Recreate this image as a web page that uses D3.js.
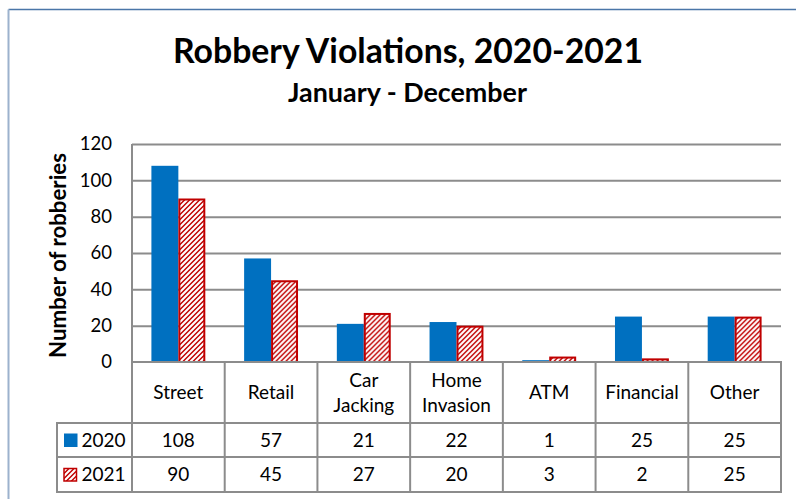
<!DOCTYPE html>
<html>
<head>
<meta charset="utf-8">
<script src="https://cdn.jsdelivr.net/npm/d3@7"></script>
<style>
  html, body { margin: 0; padding: 0; background: #fff; }
  svg { display: block; }
  text { font-family: Lato, "Noto Sans", sans-serif; fill: #000; }
</style>
</head>
<body>
<svg id="chart" width="796" height="499"></svg>
<script>
// Robbery counts by type, January - December
const categories = ["Street", "Retail", "Car Jacking", "Home Invasion", "ATM", "Financial", "Other"];
const categoryLines = [["Street"], ["Retail"], ["Car", "Jacking"], ["Home", "Invasion"], ["ATM"], ["Financial"], ["Other"]];
const seriesNames = ["2020", "2021"];
const values2020 = [108, 57, 21, 22, 1, 25, 25];
const values2021 = [90, 45, 27, 20, 3, 2, 25];
const yTicks = [0, 20, 40, 60, 80, 100, 120];

const seriesValues = { "2020": values2020, "2021": values2021 };

const svg = d3.select("#chart");
const W = 796, H = 499;

const plot = { left: 132, right: 781, top: 144, bottom: 362 };
const table = { left: 57, headerBottom: 423, row1Bottom: 457, row2Bottom: 492 };
const gridColor = "#8c8c8c";
const blue = "#0070c0";
const red = "#c00000";

svg.append("rect").attr("width", W).attr("height", H).attr("fill", "#fff");

// Striped fill for the 2021 series
const defs = svg.append("defs");
const T = 5;
const pat = defs.append("pattern")
  .attr("id", "stripes")
  .attr("patternUnits", "userSpaceOnUse")
  .attr("width", T).attr("height", T);
pat.append("rect").attr("width", T).attr("height", T).attr("fill", red);
pat.append("path")
  .attr("d", `M-1,${T + 1} L${T + 1},-1 M-${T},${T} L${T},-${T} M0,${2 * T} L${2 * T},0`)
  .attr("stroke", "#fff").attr("stroke-width", 2.1);

// Outer frame
svg.append("line").attr("x1", 8.5).attr("x2", W + 2).attr("y1", 9.5).attr("y2", 9.5)
  .attr("stroke", "#4a76a8").attr("stroke-width", 1.5);
svg.append("line").attr("x1", 8.5).attr("x2", 8.5).attr("y1", 9.5).attr("y2", H + 2)
  .attr("stroke", "#9cb2cd").attr("stroke-width", 2);

// Fit a text element to a target width by scaling its font size
function fitWidth(sel, target) {
  const node = sel.node();
  const size = parseFloat(sel.attr("font-size"));
  const w = node.getComputedTextLength();
  sel.attr("font-size", (size * target / w).toFixed(2));
  return sel;
}

// Titles
fitWidth(svg.append("text")
  .attr("x", 408).attr("y", 63)
  .attr("text-anchor", "middle")
  .attr("font-weight", 700).attr("font-size", 30)
  .text("Robbery Violations, 2020-2021"), 470);

fitWidth(svg.append("text")
  .attr("x", 407.5).attr("y", 101.5)
  .attr("text-anchor", "middle")
  .attr("font-weight", 700).attr("font-size", 20)
  .text("January - December"), 239);

// Scales
const x0 = d3.scaleBand().domain(categories).range([plot.left, plot.right]).paddingInner(0).paddingOuter(0);
const x1 = d3.scaleBand().domain(seriesNames).range([0, x0.bandwidth()]).paddingInner(0).paddingOuter(0.72);
const y = d3.scaleLinear().domain([0, 120]).range([plot.bottom, plot.top]);

// Gridlines
const grid = svg.append("g")
  .attr("transform", `translate(${plot.left},0)`)
  .call(d3.axisLeft(y).tickValues(yTicks.filter(d => d > 0)).tickSize(-(plot.right - plot.left)).tickFormat(""));
grid.select(".domain").remove();
grid.selectAll(".tick line").attr("stroke", gridColor).attr("stroke-width", 2);

// Y tick labels
const yAxis = svg.append("g")
  .attr("transform", `translate(${plot.left},0)`)
  .call(d3.axisLeft(y).tickValues(yTicks).tickSize(0).tickPadding(20));
yAxis.select(".domain").remove();
yAxis.selectAll(".tick text")
  .attr("font-family", "Lato, sans-serif").attr("font-size", 18.5).attr("fill", "#000");

// Y axis title
const yTitle = svg.append("text")
  .attr("transform", "translate(66,255.5) rotate(-90)")
  .attr("text-anchor", "middle")
  .attr("font-weight", 700).attr("font-size", 20)
  .text("Number of robberies");
fitWidth(yTitle, 205);

// Bars
const groups = svg.append("g").selectAll("g")
  .data(categories)
  .join("g")
  .attr("transform", d => `translate(${x0(d)},0)`);

groups.selectAll("rect")
  .data((d, i) => seriesNames.map(s => ({ s, v: seriesValues[s][i] })))
  .join("rect")
  .attr("x", d => x1(d.s) + (d.s === "2021" ? 1 : 0))
  .attr("width", d => x1.bandwidth() - (d.s === "2021" ? 2 : 0))
  .attr("y", d => y(d.v) + (d.s === "2021" ? 1 : 0))
  .attr("height", d => Math.max(0, y(0) - y(d.v) - (d.s === "2021" ? 1 : 0)))
  .attr("fill", d => d.s === "2020" ? blue : "url(#stripes)")
  .attr("stroke", d => d.s === "2021" ? red : "none")
  .attr("stroke-width", 2);

// Data table lines
const tl = svg.append("g").attr("stroke", gridColor).attr("stroke-width", 2);
// left value axis line down through the table
tl.append("line").attr("x1", plot.left).attr("x2", plot.left).attr("y1", plot.top).attr("y2", table.row2Bottom + 1);
// zero line / header top
tl.append("line").attr("x1", plot.left).attr("x2", plot.right + 1).attr("y1", plot.bottom).attr("y2", plot.bottom);
[table.headerBottom, table.row1Bottom, table.row2Bottom].forEach(yy => {
  tl.append("line").attr("x1", table.left - 1).attr("x2", plot.right + 1).attr("y1", yy).attr("y2", yy);
});
tl.append("line").attr("x1", table.left).attr("x2", table.left).attr("y1", table.headerBottom).attr("y2", table.row2Bottom + 1);
categories.forEach(c => {
  const xx = x0(c) + x0.bandwidth();
  tl.append("line").attr("x1", xx).attr("x2", xx).attr("y1", plot.bottom).attr("y2", table.row2Bottom + 1);
});

// Category headers
const headerMid = (plot.bottom + table.headerBottom) / 2;
categories.forEach((c, i) => {
  const lines = categoryLines[i];
  const cx = x0(c) + x0.bandwidth() / 2;
  const t = svg.append("text").attr("text-anchor", "middle").attr("font-size", 19);
  lines.forEach((ln, k) => {
    const base = headerMid + 6.8 + (k - (lines.length - 1) / 2) * 25;
    t.append("tspan").attr("x", cx).attr("y", base).text(ln);
  });
});

// Values in the table rows
const rowMids = [(table.headerBottom + table.row1Bottom) / 2, (table.row1Bottom + table.row2Bottom) / 2];
seriesNames.forEach((s, r) => {
  categories.forEach((c, i) => {
    svg.append("text")
      .attr("x", x0(c) + x0.bandwidth() / 2)
      .attr("y", rowMids[r] + 6.8)
      .attr("text-anchor", "middle")
      .attr("font-size", 19)
      .text(seriesValues[s][i]);
  });
  // legend key + series name
  const ky = rowMids[r] - 6.5;
  svg.append("rect")
    .attr("x", 64).attr("y", ky + (s === "2021" ? 0.5 : 0))
    .attr("width", s === "2021" ? 12.5 : 13.5).attr("height", s === "2021" ? 12.5 : 13.5)
    .attr("fill", s === "2020" ? blue : "url(#stripes)")
    .attr("stroke", s === "2021" ? red : "none")
    .attr("stroke-width", 1.5);
  svg.append("text")
    .attr("x", 81.5).attr("y", rowMids[r] + 6.8)
    .attr("font-size", 19)
    .text(s);
});
</script>
</body>
</html>
